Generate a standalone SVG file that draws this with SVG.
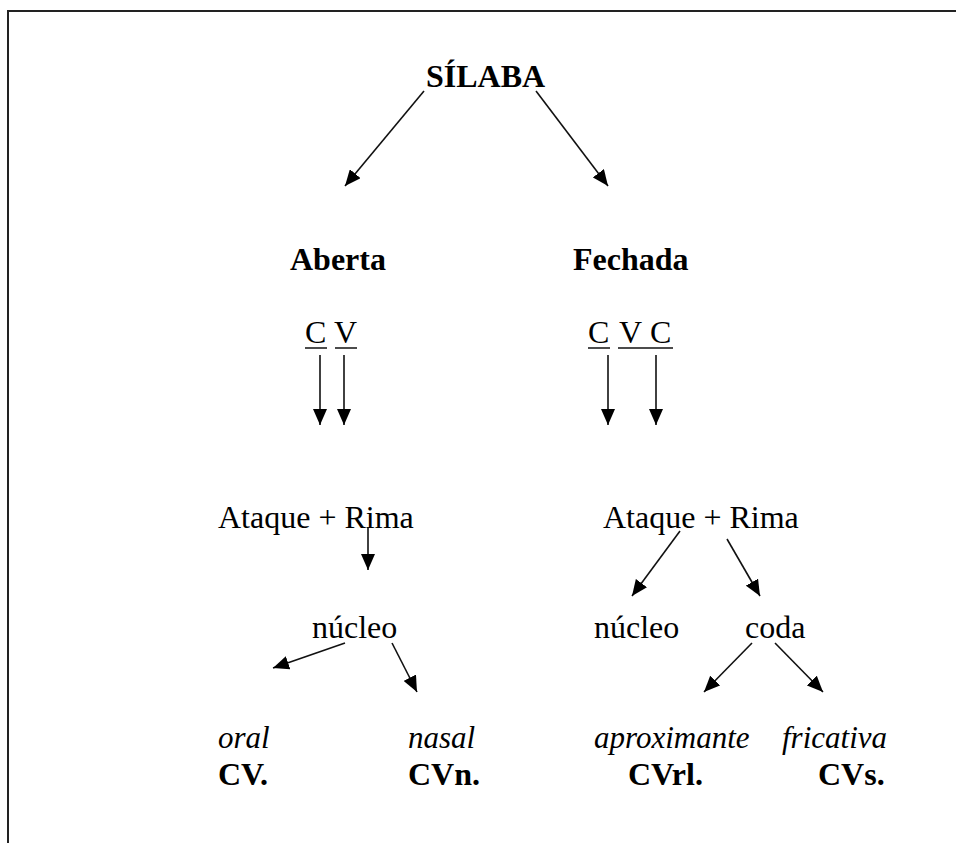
<svg xmlns="http://www.w3.org/2000/svg" width="956" height="843" viewBox="0 0 956 843">
<style>
text{font-family:"Liberation Serif","Times New Roman",serif;font-size:32px;fill:#000}
.b{font-weight:bold}
.i{font-style:italic;font-size:31px}
.ln{stroke:#111;stroke-width:1.6;fill:none}
.ul{stroke:#111;stroke-width:1.5}
</style>
<defs>
<marker id="ah" markerUnits="userSpaceOnUse" markerWidth="16" markerHeight="14" refX="16" refY="7" orient="auto">
<path d="M0,0 L16,7 L0,14 z" fill="#000"/>
</marker>
</defs>
<rect x="0" y="0" width="956" height="843" fill="#fff"/>
<path d="M8,843 V11 H956" fill="none" stroke="#222" stroke-width="2"/>
<g id="silaba"><text class="b" x="426" y="87">SÍLABA</text></g>
<g id="aberta"><text class="b" x="290" y="270">Aberta</text></g>
<g id="fechada"><text class="b" x="573" y="270">Fechada</text></g>
<g id="cv"><text x="305" y="343">C</text><text x="334" y="343">V</text>
<line class="ul" x1="305" y1="348" x2="327" y2="348"/><line class="ul" x1="335" y1="348" x2="357" y2="348"/></g>
<g id="cvc"><text x="588" y="343">C</text><text x="619" y="343">V</text><text x="650" y="343">C</text>
<line class="ul" x1="588" y1="348" x2="610" y2="348"/><line class="ul" x1="618" y1="348" x2="673" y2="348"/></g>
<g id="ataque-rima-1"><text x="218" y="528">Ataque + Rima</text></g>
<g id="ataque-rima-2"><text x="603" y="528">Ataque + Rima</text></g>
<g id="nucleo-1"><text x="312" y="638">núcleo</text></g>
<g id="nucleo-2"><text x="594" y="638">núcleo</text></g>
<g id="coda"><text x="745" y="638">coda</text></g>
<g id="oral"><text class="i" x="218" y="748">oral</text><text class="b" x="218" y="785">CV.</text></g>
<g id="nasal"><text class="i" x="408" y="748">nasal</text><text class="b" x="408" y="785">CVn.</text></g>
<g id="aproximante"><text class="i" x="594" y="748">aproximante</text><text class="b" x="628" y="785">CVrl.</text></g>
<g id="fricativa"><text class="i" x="782" y="748">fricativa</text><text class="b" x="818" y="785">CVs.</text></g>
<g id="connectors" class="ln" marker-end="url(#ah)">
<line x1="424" y1="91" x2="345" y2="186"/>
<line x1="536" y1="91" x2="608" y2="186"/>
<line x1="320" y1="355" x2="320" y2="425"/>
<line x1="344" y1="355" x2="344" y2="425"/>
<line x1="608" y1="355" x2="608" y2="425"/>
<line x1="656" y1="355" x2="656" y2="425"/>
<line x1="368" y1="527" x2="368" y2="570"/>
<line x1="345" y1="643" x2="273" y2="668"/>
<line x1="392" y1="643" x2="417" y2="692"/>
<line x1="680" y1="531" x2="632" y2="596"/>
<line x1="727" y1="539" x2="760" y2="596"/>
<line x1="752" y1="643" x2="704" y2="692"/>
<line x1="775" y1="643" x2="823" y2="692"/>
</g>
</svg>
